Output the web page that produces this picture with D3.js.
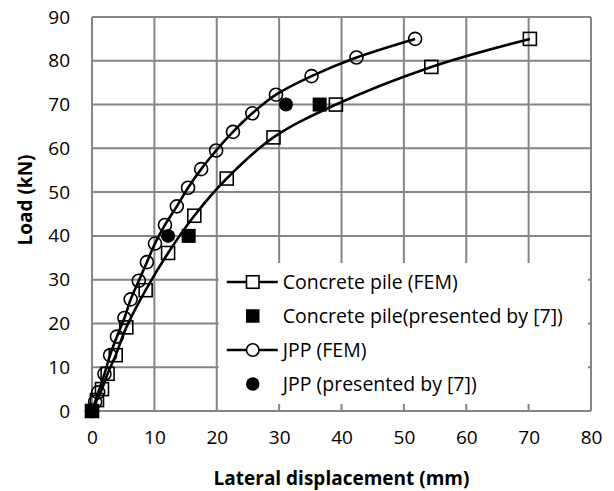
<!DOCTYPE html>
<html>
<head>
<meta charset="utf-8">
<script src="https://cdn.jsdelivr.net/npm/d3@7"></script>
<style>
  html, body { margin: 0; padding: 0; background: #fff; }
  svg { display: block; }
</style>
</head>
<body>
<div id="chart"></div>
<script>
const WIDTH = 614;
const HEIGHT = 491;
const MARGIN = {top: 17, right: 23, bottom: 80, left: 92};
const FONT = '"Open Sans", sans-serif';

// Concrete pile (FEM)
const concreteFemX = [0, 0.8, 1.6, 2.5, 3.8, 5.5, 8.6, 12.2, 16.4, 21.6, 29.1, 39.1, 54.4, 70.2];
const concreteFemY = [0, 2.5, 5.0, 8.5, 12.75, 19.1, 27.6, 36.1, 44.6, 53.1, 62.5, 70, 78.6, 85];
// Concrete pile (presented by [7])
const concreteRefX = [0, 15.5, 36.5];
const concreteRefY = [0, 40, 70];
// JPP (FEM)
const jppFemX = [0, 0.5, 1.0, 2.0, 2.9, 4.0, 5.2, 6.2, 7.5, 8.8, 10.1, 11.7, 13.6, 15.4, 17.5, 19.9, 22.6, 25.7, 29.5, 35.2, 42.4, 51.8];
const jppFemY = [0, 2.1, 4.25, 8.5, 12.75, 17, 21.25, 25.5, 29.75, 34, 38.25, 42.5, 46.75, 51, 55.25, 59.5, 63.75, 68, 72.25, 76.5, 80.75, 85];
// JPP (presented by [7])
const jppRefX = [0, 12.2, 31.1];
const jppRefY = [0, 40, 70];

const xTicks = [0, 10, 20, 30, 40, 50, 60, 70, 80];
const yTicks = [0, 10, 20, 30, 40, 50, 60, 70, 80, 90];
const legendLabels = [
    'Concrete pile (FEM)',
    'Concrete pile(presented by [7])',
    'JPP (FEM)',
    'JPP (presented by [7])'
];

const zip = (xs, ys) => xs.map((x, i) => ({x, y: ys[i]}));

const series = [
    {name: legendLabels[0], points: zip(concreteFemX, concreteFemY), line: true, shape: 'square', filled: false},
    {name: legendLabels[1], points: zip(concreteRefX, concreteRefY), line: false, shape: 'square', filled: true},
    {name: legendLabels[2], points: zip(jppFemX, jppFemY), line: true, shape: 'circle', filled: false},
    {name: legendLabels[3], points: zip(jppRefX, jppRefY), line: false, shape: 'circle', filled: true}
];

const innerW = WIDTH - MARGIN.left - MARGIN.right;
const innerH = HEIGHT - MARGIN.top - MARGIN.bottom;

const x = d3.scaleLinear().domain([0, 80]).range([0, innerW]);
const y = d3.scaleLinear().domain([0, 90]).range([innerH, 0]);

const svg = d3.select('#chart').append('svg')
    .attr('width', WIDTH)
    .attr('height', HEIGHT)
    .style('font-family', FONT);

const g = svg.append('g')
    .attr('transform', `translate(${MARGIN.left},${MARGIN.top})`);

// gridlines
g.append('g')
    .attr('stroke', '#858585')
    .attr('stroke-width', 2)
    .call(sel => {
        sel.selectAll('line.v').data(xTicks).join('line')
            .attr('class', 'v')
            .attr('x1', d => x(d)).attr('x2', d => x(d))
            .attr('y1', 0).attr('y2', innerH);
        sel.selectAll('line.h').data(yTicks).join('line')
            .attr('class', 'h')
            .attr('x1', 0).attr('x2', innerW)
            .attr('y1', d => y(d)).attr('y2', d => y(d));
    });

// axes (labels only)
const xAxis = g.append('g')
    .attr('transform', `translate(0,${innerH})`)
    .call(d3.axisBottom(x).tickValues(xTicks).tickSize(0).tickPadding(20));
const yAxis = g.append('g')
    .call(d3.axisLeft(y).tickValues(yTicks).tickSize(0).tickPadding(22));
[xAxis, yAxis].forEach(a => {
    a.select('.domain').remove();
    a.selectAll('text')
        .attr('font-family', FONT)
        .attr('font-size', 19)
        .attr('fill', '#000');
});

// legend background (white box over the grid)
const legend = g.append('g')
    .attr('transform', `translate(${x(20) + 2},${y(0) - 148})`);
legend.append('rect')
    .attr('width', x(79.5) - x(20) - 2)
    .attr('height', 141)
    .attr('fill', '#fff');

const line = d3.line()
    .x(d => x(d.x))
    .y(d => y(d.y))
    .curve(d3.curveCatmullRom.alpha(0.5));

function drawMarker(sel, shape, filled, size) {
    if (shape === 'square') {
        sel.append('rect')
            .attr('x', -size / 2).attr('y', -size / 2)
            .attr('width', size).attr('height', size)
            .attr('fill', filled ? '#000' : '#fff')
            .attr('fill-opacity', filled ? 1 : 0)
            .attr('stroke', '#000')
            .attr('stroke-width', filled ? 0 : 1.6);
    } else {
        sel.append('circle')
            .attr('r', size / 2)
            .attr('fill', filled ? '#000' : '#fff')
            .attr('fill-opacity', filled ? 1 : 0)
            .attr('stroke', '#000')
            .attr('stroke-width', filled ? 0 : 1.6);
    }
}

series.filter(s => s.line).forEach(s => {
    g.append('path')
        .datum(s.points)
        .attr('fill', 'none')
        .attr('stroke', '#000')
        .attr('stroke-width', 2.6)
        .attr('d', line);
});

series.forEach(s => {
    const size = s.filled ? 14 : 13;
    g.append('g').selectAll('g')
        .data(s.points)
        .join('g')
        .attr('transform', d => `translate(${x(d.x)},${y(d.y)})`)
        .each(function() { drawMarker(d3.select(this), s.shape, s.filled, size); });
});

// legend entries
const rowH = 34;
series.forEach((s, i) => {
    const row = legend.append('g')
        .attr('transform', `translate(0,${19 + i * rowH})`);
    if (s.line) {
        row.append('line')
            .attr('x1', 8).attr('x2', 59)
            .attr('stroke', '#000')
            .attr('stroke-width', 2.6);
    }
    const m = row.append('g').attr('transform', 'translate(34,0)');
    drawMarker(m, s.shape, s.filled, s.filled ? 13.5 : 12.5);
    m.selectAll('rect,circle').filter(() => !s.filled).attr('fill-opacity', 1);
    row.append('text')
        .attr('x', 64)
        .attr('dy', '0.35em')
        .attr('font-size', 19.5)
        .text(s.name);
});

// axis titles
svg.append('text')
    .attr('x', MARGIN.left + innerW / 2)
    .attr('y', 478)
    .attr('dy', '0.35em')
    .attr('text-anchor', 'middle')
    .attr('font-size', 19)
    .attr('font-weight', 'bold')
    .text('Lateral displacement (mm)');

svg.append('text')
    .attr('transform', 'translate(25,200) rotate(-90)')
    .attr('dy', '0.35em')
    .attr('text-anchor', 'middle')
    .attr('font-size', 19)
    .attr('font-weight', 'bold')
    .text('Load (kN)');
</script>
</body>
</html>
